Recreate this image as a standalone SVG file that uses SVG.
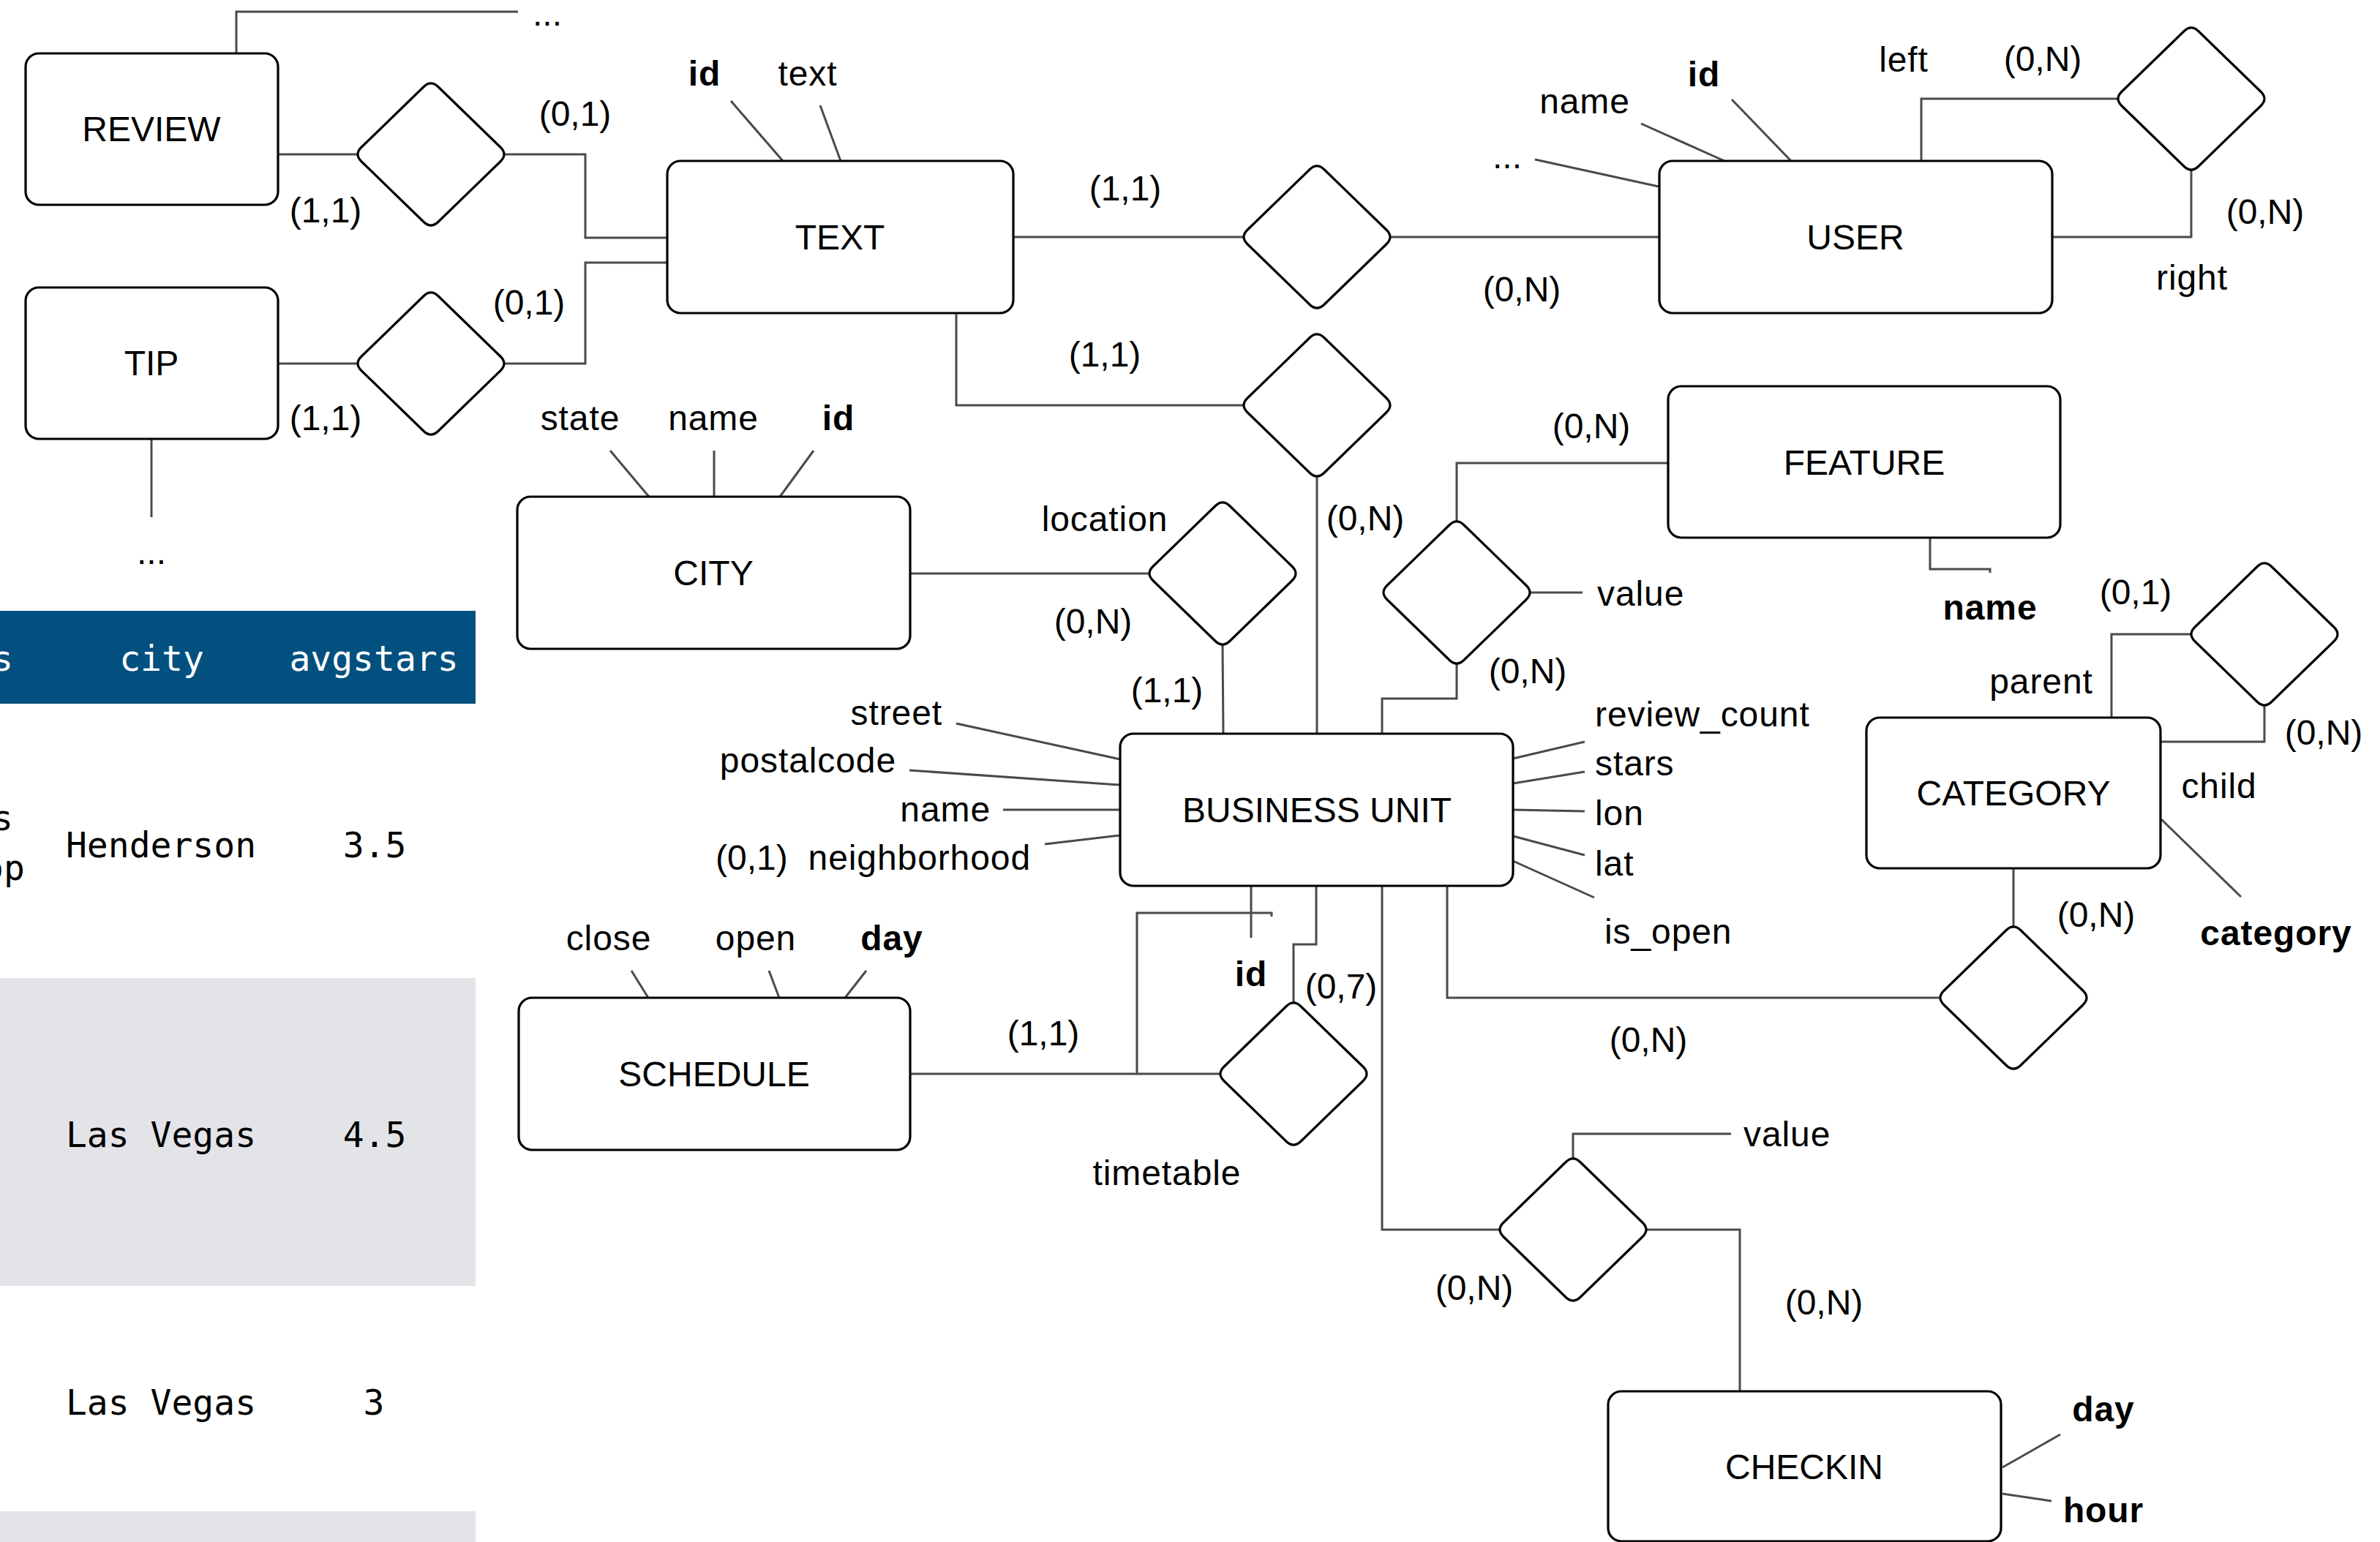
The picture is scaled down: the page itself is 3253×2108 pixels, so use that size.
<svg xmlns="http://www.w3.org/2000/svg" xmlns:xlink="http://www.w3.org/1999/xlink" width="3253" height="2108" viewBox="0 0 3253 2108">
<style>
.box{fill:#fff;stroke:#000;stroke-width:3.2}
.dia{fill:#fff;stroke:#000;stroke-width:3.2}
.ln{fill:none;stroke:#4a4a4a;stroke-width:3}
text{font-family:"Liberation Sans",Arial,Helvetica,sans-serif;font-size:48px;fill:#000}
.c{text-anchor:middle}
.e{text-anchor:end}
.b{font-weight:bold}
.lw{letter-spacing:0.9px}
.m{font-family:"DejaVu Sans Mono","Liberation Mono",monospace;font-size:48px;letter-spacing:0}
.w{fill:#fff}
</style>
<defs>
<path id="dia" d="M-10,-92.25 Q0,-102 10,-92.25 L95,-9.75 Q105,0 95,9.75 L10,92.25 Q0,102 -10,92.25 L-95,9.75 Q-105,0 -95,-9.75 Z"/>
</defs>
<rect width="3253" height="2108" fill="#fff"/>
<g id="table">
<rect x="0" y="835" width="650" height="127" fill="#02507f"/>
<rect x="0" y="1337" width="650" height="421" fill="#e3e4e8"/>
<rect x="0" y="2066" width="650" height="42" fill="#e3e4e8"/>
<text class="m w" x="-11" y="917">s</text>
<text class="m w c" x="221" y="917">city</text>
<text class="m w c" x="511" y="917">avgstars</text>
<text class="m" x="-11" y="1135">s</text>
<text class="m" x="-24" y="1203">op</text>
<text class="m c" x="220" y="1172">Henderson</text>
<text class="m c" x="512" y="1172">3.5</text>
<text class="m c" x="220" y="1568">Las Vegas</text>
<text class="m c" x="512" y="1568">4.5</text>
<text class="m c" x="220" y="1934">Las Vegas</text>
<text class="m c" x="511" y="1934">3</text>
</g>
<g id="connectors" class="ln">
<path d="M323,73 V16 H708"/>
<path d="M380,211 H489"/>
<path d="M689,211 H800 V325 H912"/>
<path d="M380,497 H489"/>
<path d="M689,497 H800 V359 H912"/>
<path d="M207,600 V707"/>
<path d="M1385,324 H1700"/>
<path d="M1900,324 H2268"/>
<path d="M1307,428 V554 H1700"/>
<path d="M1800,651 V1003"/>
<path d="M999,138 L1070,220"/>
<path d="M1121,144 L1149,220"/>
<path d="M834,616 L887,679"/>
<path d="M976,616 V679"/>
<path d="M1112,616 L1066,679"/>
<path d="M1244,784 H1571"/>
<path d="M1671,881 L1672,1003"/>
<path d="M2098,218 L2267,255"/>
<path d="M2243,169 L2357,220"/>
<path d="M2367,136 L2448,220"/>
<path d="M2626,220 V135 H2895"/>
<path d="M2995,232 V324 H2805"/>
<path d="M2280,633 H1991 V713"/>
<path d="M2091,810 H2163"/>
<path d="M2638,735 V778 H2720 V783"/>
<path d="M1991,907 V955 H1889 V1003"/>
<path d="M1307,989 L1531,1038"/>
<path d="M1243,1053 L1531,1073"/>
<path d="M1371,1107 H1531"/>
<path d="M1428,1154 L1531,1142"/>
<path d="M2068,1037 L2166,1014"/>
<path d="M2068,1071 L2166,1055"/>
<path d="M2068,1107 L2166,1109"/>
<path d="M2068,1143 L2166,1169"/>
<path d="M2068,1177 L2179,1227"/>
<path d="M1710,1211 V1282"/>
<path d="M1244,1468 H1668"/>
<path d="M1554,1468 V1248 H1738 V1253"/>
<path d="M1799,1211 V1291 H1768 V1372"/>
<path d="M1889,1211 V1681 H2051"/>
<path d="M1978,1211 V1364 H2652"/>
<path d="M2752,1267 V1187"/>
<path d="M2886,981 V867 H2995"/>
<path d="M3095,964 V1014 H2953"/>
<path d="M2954,1120 L3063,1226"/>
<path d="M2249,1681 H2378 V1902"/>
<path d="M2150,1584 V1550 H2366"/>
<path d="M2737,2006 L2816,1961"/>
<path d="M2737,2042 L2804,2052"/>
<path d="M863,1327 L886,1364"/>
<path d="M1051,1327 L1065,1364"/>
<path d="M1184,1327 L1155,1364"/>
</g>
<g id="review"><rect class="box" x="35" y="73" width="345" height="207" rx="18"/><text class="c" x="207" y="193">REVIEW</text></g>
<g id="tip"><rect class="box" x="35" y="393" width="345" height="207" rx="18"/><text class="c" x="207" y="513">TIP</text></g>
<g id="text"><rect class="box" x="912" y="220" width="473" height="208" rx="18"/><text class="c" x="1148" y="341">TEXT</text></g>
<g id="city"><rect class="box" x="707" y="679" width="537" height="208" rx="18"/><text class="c" x="975" y="800">CITY</text></g>
<g id="user"><rect class="box" x="2268" y="220" width="537" height="208" rx="18"/><text class="c" x="2536" y="341">USER</text></g>
<g id="feature"><rect class="box" x="2280" y="528" width="536" height="207" rx="18"/><text class="c" x="2548" y="649">FEATURE</text></g>
<g id="business-unit"><rect class="box" x="1531" y="1003" width="537" height="208" rx="18"/><text class="c" x="1800" y="1124">BUSINESS UNIT</text></g>
<g id="category"><rect class="box" x="2551" y="981" width="402" height="206" rx="18"/><text class="c" x="2752" y="1101">CATEGORY</text></g>
<g id="schedule"><rect class="box" x="709" y="1364" width="535" height="208" rx="18"/><text class="c" x="976" y="1485">SCHEDULE</text></g>
<g id="checkin"><rect class="box" x="2198" y="1902" width="537" height="205" rx="18"/><text class="c" x="2466" y="2022">CHECKIN</text></g>
<g id="rel-review"><use xlink:href="#dia" href="#dia" class="dia" x="589" y="211"/></g>
<g id="rel-tip"><use xlink:href="#dia" href="#dia" class="dia" x="589" y="497"/></g>
<g id="rel-text-user"><use xlink:href="#dia" href="#dia" class="dia" x="1800" y="324"/></g>
<g id="rel-text-bu"><use xlink:href="#dia" href="#dia" class="dia" x="1800" y="554"/></g>
<g id="rel-location"><use xlink:href="#dia" href="#dia" class="dia" x="1671" y="784"/></g>
<g id="rel-user-self"><use xlink:href="#dia" href="#dia" class="dia" x="2995" y="135"/></g>
<g id="rel-feature"><use xlink:href="#dia" href="#dia" class="dia" x="1991" y="810"/></g>
<g id="rel-category-self"><use xlink:href="#dia" href="#dia" class="dia" x="3095" y="867"/></g>
<g id="rel-timetable"><use xlink:href="#dia" href="#dia" class="dia" x="1768" y="1468"/></g>
<g id="rel-bu-category"><use xlink:href="#dia" href="#dia" class="dia" x="2752" y="1364"/></g>
<g id="rel-checkin"><use xlink:href="#dia" href="#dia" class="dia" x="2150" y="1681"/></g>
<g id="labels">
<text class="c" x="748" y="35">...</text>
<text class="c" x="207" y="771">...</text>
<text class="c" x="2060" y="230">...</text>
<text class="c" x="445" y="304">(1,1)</text>
<text class="c" x="786" y="172">(0,1)</text>
<text class="c" x="723" y="430">(0,1)</text>
<text class="c" x="445" y="588">(1,1)</text>
<text class="c b lw" x="963" y="117">id</text>
<text class="c lw" x="1104" y="117">text</text>
<text class="c" x="1538" y="274">(1,1)</text>
<text class="c" x="1510" y="501">(1,1)</text>
<text class="c lw" x="793" y="588">state</text>
<text class="c lw" x="975" y="588">name</text>
<text class="c b lw" x="1146" y="588">id</text>
<text class="c lw" x="1510" y="726">location</text>
<text class="c" x="1494" y="866">(0,N)</text>
<text class="c" x="1866" y="725">(0,N)</text>
<text class="c" x="2080" y="412">(0,N)</text>
<text class="c lw" x="2166" y="155">name</text>
<text class="c b lw" x="2329" y="118">id</text>
<text class="c lw" x="2602" y="98">left</text>
<text class="c" x="2792" y="97">(0,N)</text>
<text class="c" x="3096" y="306">(0,N)</text>
<text class="c lw" x="2996" y="396">right</text>
<text class="c" x="2175" y="599">(0,N)</text>
<text class="lw" x="2183" y="828">value</text>
<text class="c b lw" x="2720" y="847">name</text>
<text class="c" x="2088" y="934">(0,N)</text>
<text class="c" x="1595" y="960">(1,1)</text>
<text class="e lw" x="1288" y="991">street</text>
<text class="e lw" x="1225" y="1056">postalcode</text>
<text class="e lw" x="1354" y="1123">name</text>
<text class="e lw" x="1409" y="1189">neighborhood</text>
<text x="978" y="1189">(0,1)</text>
<text class="lw" x="2180" y="993">review_count</text>
<text class="lw" x="2180" y="1060">stars</text>
<text class="lw" x="2180" y="1128">lon</text>
<text class="lw" x="2180" y="1197">lat</text>
<text class="lw" x="2193" y="1290">is_open</text>
<text class="c" x="2253" y="1438">(0,N)</text>
<text class="c" x="2865" y="1267">(0,N)</text>
<text class="c" x="2919" y="826">(0,1)</text>
<text class="c lw" x="2790" y="948">parent</text>
<text class="c" x="3176" y="1018">(0,N)</text>
<text class="c lw" x="3033" y="1091">child</text>
<text class="c b lw" x="3111" y="1292">category</text>
<text class="c" x="1833" y="1365">(0,7)</text>
<text class="c b lw" x="1710" y="1348">id</text>
<text class="c lw" x="832" y="1299">close</text>
<text class="c lw" x="1033" y="1299">open</text>
<text class="c b lw" x="1219" y="1299">day</text>
<text class="c" x="1426" y="1429">(1,1)</text>
<text class="c lw" x="1595" y="1620">timetable</text>
<text class="lw" x="2383" y="1567">value</text>
<text class="c" x="2015" y="1777">(0,N)</text>
<text class="c" x="2493" y="1797">(0,N)</text>
<text class="c b lw" x="2875" y="1943">day</text>
<text class="c b lw" x="2875" y="2081">hour</text>
</g>
</svg>
